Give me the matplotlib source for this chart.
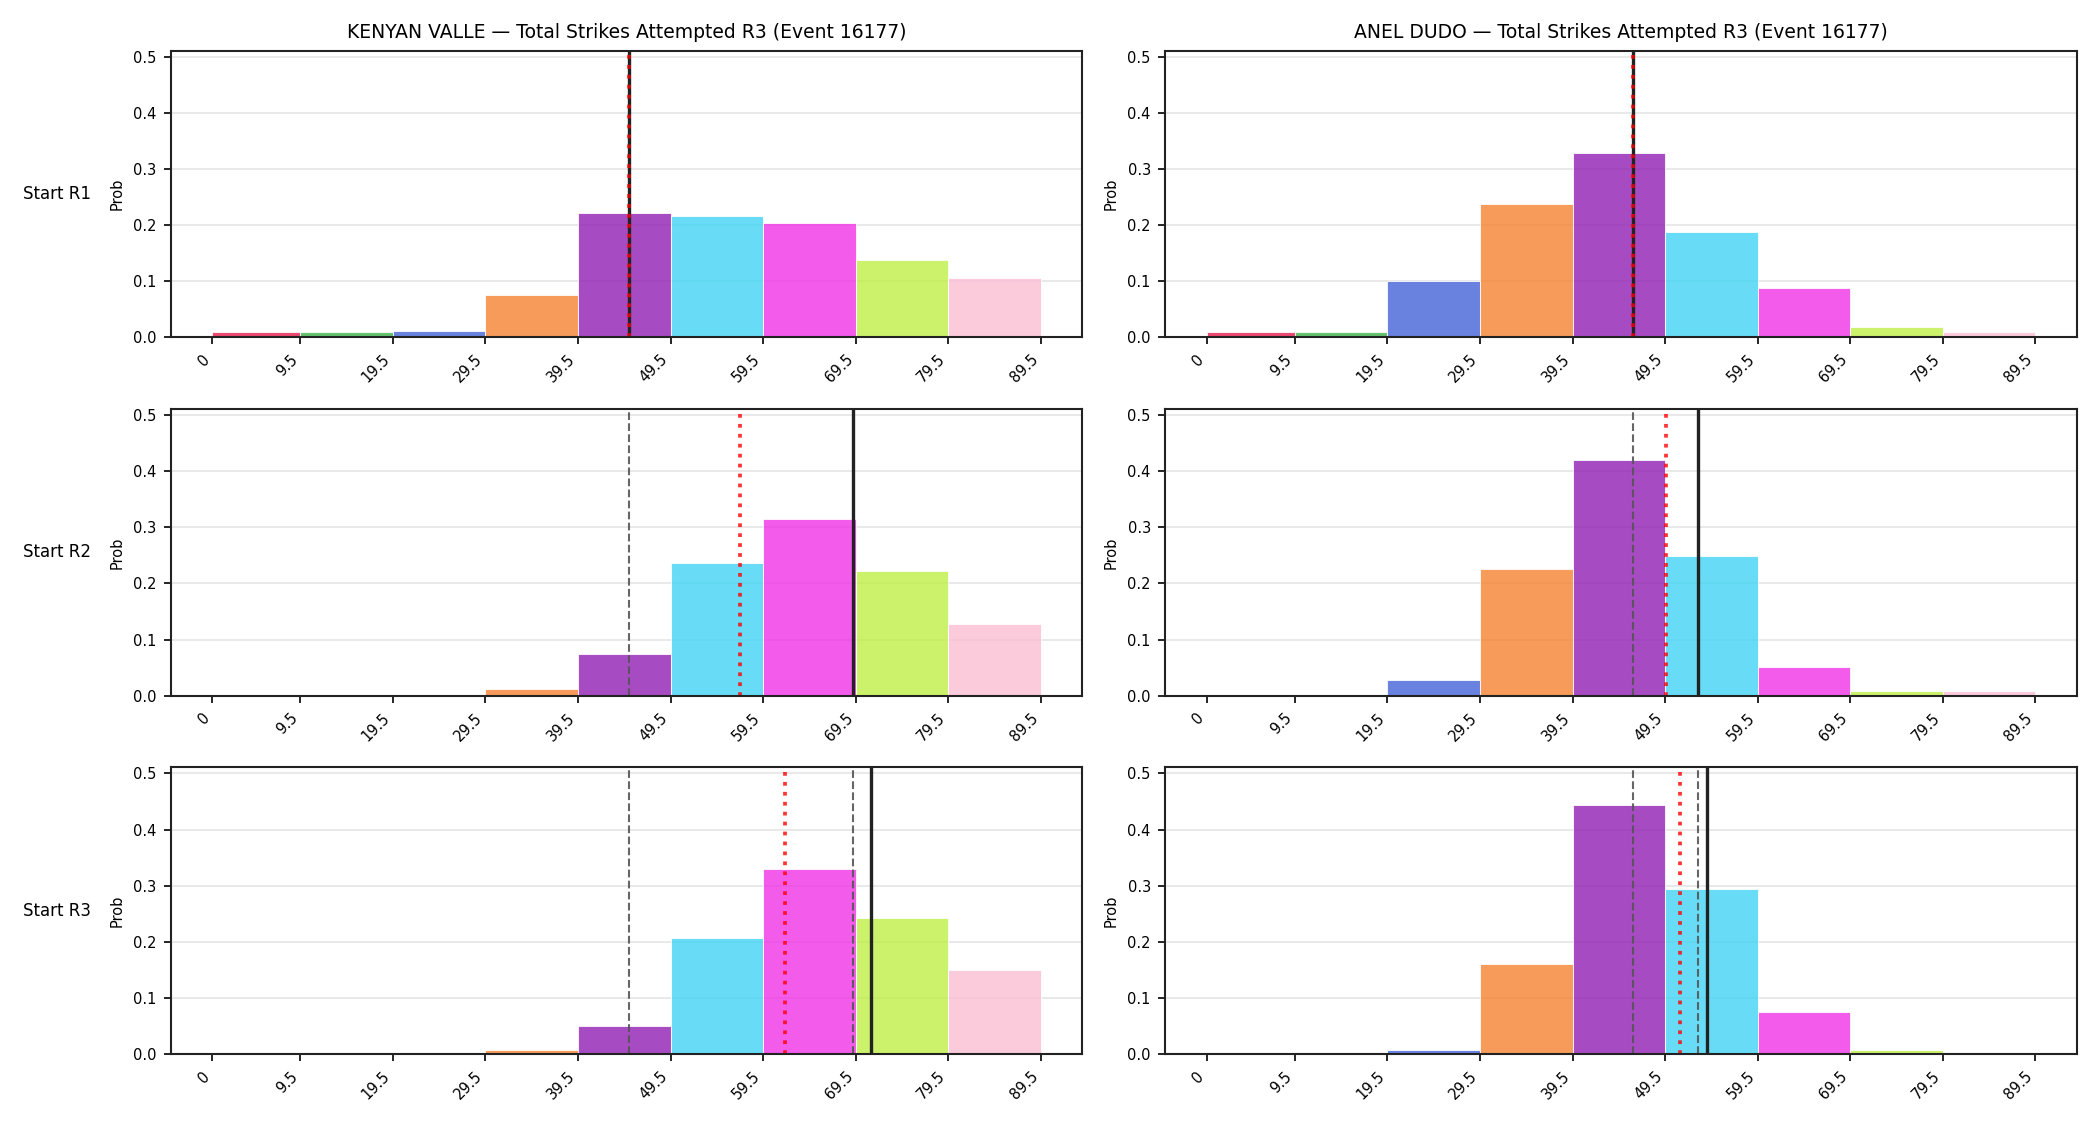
import numpy as np
import matplotlib
matplotlib.use("Agg")
import matplotlib.pyplot as plt

# bin edges on the x axis
edges = [0, 9.5, 19.5, 29.5, 39.5, 49.5, 59.5, 69.5, 79.5, 89.5]
tick_labels = ["0", "9.5", "19.5", "29.5", "39.5", "49.5", "59.5", "69.5", "79.5", "89.5"]
bin_colors = ["#e6194b", "#3cb44b", "#4363d8", "#f58231", "#911eb4",
              "#42d4f4", "#f032e6", "#bfef45", "#fabed4"]

fighters = ["KENYAN VALLE", "ANEL DUDO"]
rows = ["Start R1", "Start R2", "Start R3"]

# probabilities per bin, one list per start round
valle_r1 = [0.009, 0.009, 0.011, 0.075, 0.222, 0.216, 0.204, 0.137, 0.106]
valle_r2 = [0.0, 0.0, 0.0, 0.012, 0.075, 0.236, 0.315, 0.222, 0.128]
valle_r3 = [0.0, 0.0, 0.0, 0.007, 0.050, 0.207, 0.330, 0.242, 0.150]
dudo_r1 = [0.009, 0.009, 0.101, 0.238, 0.329, 0.188, 0.087, 0.018, 0.009]
dudo_r2 = [0.0, 0.0, 0.028, 0.225, 0.419, 0.248, 0.052, 0.009, 0.009]
dudo_r3 = [0.0, 0.0, 0.007, 0.160, 0.444, 0.294, 0.075, 0.007, 0.0]

# solid black line (line at that start), red dotted (mean)
valle_line = [45.0, 69.2, 71.1]
valle_mean = [45.0, 57.0, 61.8]
dudo_line = [46.0, 53.0, 54.0]
dudo_mean = [46.0, 49.6, 51.1]

probs = [[valle_r1, valle_r2, valle_r3], [dudo_r1, dudo_r2, dudo_r3]]
lines = [valle_line, dudo_line]
means = [valle_mean, dudo_mean]

ymax = max(max(p) for col in probs for p in col) * 1.15
widths = np.diff(edges)

fig, axes = plt.subplots(3, 2, figsize=(14, 7.5), dpi=150)
fig.subplots_adjust(left=0.0814, right=0.989, top=0.955, bottom=0.063,
                    hspace=0.25, wspace=0.091)

for c in range(2):
    for r in range(3):
        ax = axes[r, c]
        ax.bar(edges[:-1], probs[c][r], width=widths, align="edge",
               color=bin_colors, alpha=0.8, edgecolor="white", linewidth=0.5)
        # previous rounds' lines as dashed
        if r > 0:
            for k in range(r):
                ax.axvline(lines[c][k], color="#555555", linestyle="--",
                           linewidth=1.0, alpha=0.9)
        ax.axvline(lines[c][r], color="#222222", linewidth=1.6)
        ax.axvline(means[c][r], color="red", linestyle=":", linewidth=1.8, alpha=0.8)
        ax.set_ylim(0, ymax)
        ax.set_xticks(edges)
        ax.set_xticklabels(tick_labels, rotation=45, ha="right", fontsize=7)
        ax.set_yticks([0, 0.1, 0.2, 0.3, 0.4, 0.5])
        ax.tick_params(axis="y", labelsize=7)
        ax.set_ylabel("Prob", fontsize=7)
        ax.grid(axis="y", color="#e5e5e5", linewidth=0.8)
        ax.set_axisbelow(True)
        for s in ax.spines.values():
            s.set_color("#222222")
            s.set_linewidth(1.0)
        if r == 0:
            ax.set_title(f"{fighters[c]} — Total Strikes Attempted R3 (Event 16177)",
                         fontsize=9)

for r in range(3):
    pos = axes[r, 0].get_position()
    fig.text(0.011, (pos.y0 + pos.y1) / 2, rows[r], ha="left", va="center", fontsize=8)

fig.savefig("out.png", dpi=150)
